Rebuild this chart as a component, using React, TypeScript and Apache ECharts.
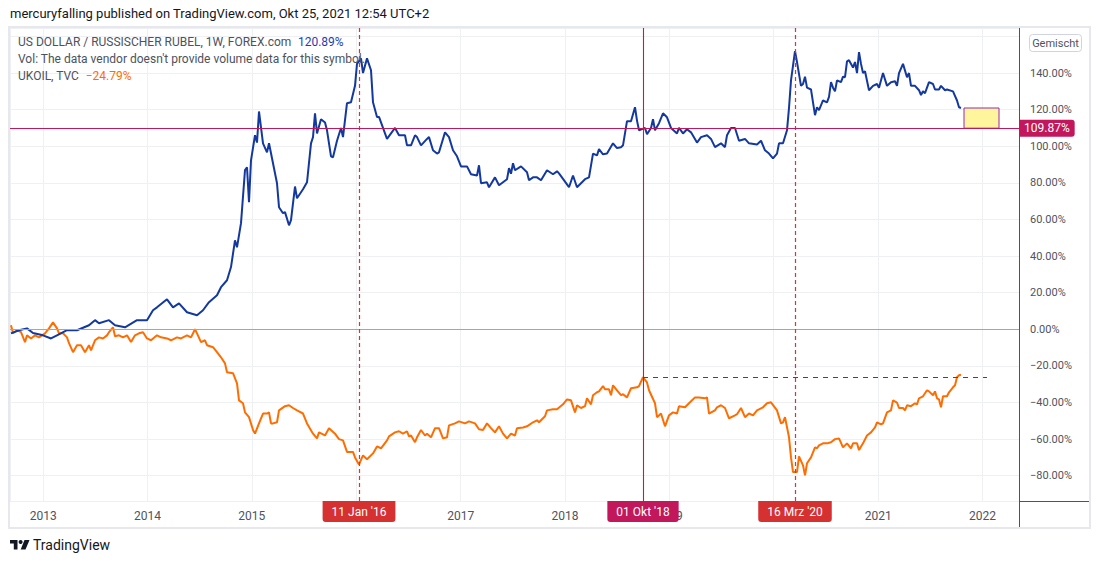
import React, { useEffect, useRef } from "react";
import * as echarts from "echarts";

// Weekly bars, counted from the first bar of the chart
const START_DATE = "2012-09-10";

// [week index, % change since start] — US DOLLAR / RUSSISCHER RUBEL, 1W
const usdRub: [number, number][] = [
  [0,-2.2],[4,-0.5],[8,0.5],[11,-2],[16,-3.3],[20,-5],[23,-3.3],[28,-0.5],[33,-0.5],[39,2.2],[42,5],[44,3.3],[49,5],[52,2.2],[57,1.1],[63,5],[68,5],[71,10.4],[73,12],[78,16.4],[81,12],[84,14.2],[88,9.3],[93,7.7],[96,10.4],[99,14.8],[103,18.6],[105,23],[108,26.8],[110,34],[112,48.6],[113,44.8],[115,58],[117,87],[118,88.5],[119,69.4],[120,92.3],[122,106],[123,102],[124,119],[126,101.6],[128,96.7],[129,101.6],[131,90.7],[133,79.8],[134,66.7],[136,63.4],[137,64],[139,56.8],[140,59.6],[142,78],[143,71.6],[146,76.5],[148,80.3],[150,101.6],[151,105],[152,118],[153,107],[155,114.8],[157,113],[158,108.7],[160,94.5],[161,94],[163,103],[165,110],[166,105],[168,123.5],[170,124],[172,133],[173,145],[175,148],[176,140],[178,148],[180,141.5],[181,124],[183,116],[184,116],[188,104],[192,110],[194,106],[197,106],[198,100.5],[200,100.5],[202,106],[203,105],[205,100.5],[208,104],[209,105],[211,97.8],[213,96],[214,96.7],[217,107.6],[219,105],[221,97.8],[223,94.5],[225,89],[228,89],[230,84.7],[233,84],[234,89.6],[235,79.8],[238,80.3],[239,77.6],[242,83],[244,78.7],[248,82],[249,88],[250,85],[251,90.7],[252,86.9],[255,89],[258,85.8],[259,81.4],[261,83],[263,83],[265,81.4],[268,86.9],[271,84.7],[273,86.3],[274,85.2],[278,79.2],[279,77.6],[281,84],[283,77.6],[285,79.8],[287,82],[289,83],[291,96],[293,95],[294,98.4],[296,95.6],[298,96],[301,101.6],[303,99],[305,99.5],[306,100.5],[308,113.7],[310,113.7],[312,121.3],[313,114],[314,108.7],[317,110],[318,106.6],[320,110],[321,114.8],[322,108.7],[324,112.6],[326,118],[328,115.8],[330,110],[333,107],[334,110],[336,107],[338,109.3],[340,107.6],[343,102],[345,105],[348,106],[350,104],[352,99.5],[355,101.6],[357,99.5],[358,106],[360,110],[362,110],[364,103],[367,104],[369,101.6],[373,101],[375,103],[377,97.8],[379,96],[381,93.4],[383,96],[384,101.6],[386,101.6],[388,108.7],[389,121],[390,136],[392,152],[393,146],[395,133],[396,134],[397,138],[398,132],[400,131],[401,124],[402,117],[403,121.3],[404,119.7],[406,125],[408,124],[409,127],[410,135],[411,132],[412,130],[413,136],[415,135],[416,138],[417,137.7],[418,146.4],[419,147],[421,143],[422,146],[423,140],[424,151.4],[425,145],[426,140],[427,141],[429,130.6],[431,133],[433,134],[434,132],[436,140],[438,133],[440,135],[442,135.5],[443,133],[444,140],[446,145],[448,137.7],[449,140],[450,133],[452,133],[454,130.6],[455,128],[456,130],[457,129],[459,135],[461,134],[462,131],[464,131],[465,133],[467,130.6],[468,131],[471,130],[473,125],[474,121.3],[475,120.89]
];

// [week index, % change since start] — UKOIL, TVC
const ukoil: [number, number][] = [
  [0,2.2],[1,-2.2],[3,-0.5],[5,-1.6],[7,-7],[8,-3.3],[10,-5],[12,-3.3],[14,-4.4],[17,-2.2],[19,0.5],[21,3.8],[23,0.5],[24,-2.2],[26,-2.2],[28,-4.4],[29,-7.6],[31,-12.5],[33,-8.7],[35,-8.7],[37,-12.5],[39,-8.7],[40,-11.5],[42,-6],[44,-4.4],[46,-5],[48,-3.3],[49,-1.6],[51,1.1],[52,-3.8],[54,-3.3],[56,-4.4],[58,-3.3],[60,-7],[62,-3.3],[64,-2.2],[66,-1.6],[68,-5],[70,-6],[73,-3.3],[75,-4.4],[78,-5],[80,-6],[83,-4.4],[85,-5],[88,-3.3],[90,-4.4],[92,0],[93,-2.2],[95,-7],[97,-6],[98,-8.7],[101,-9.8],[103,-12.5],[105,-15.3],[107,-18.6],[108,-23.5],[111,-24],[113,-29.5],[114,-38.8],[116,-40.4],[117,-45.4],[119,-48],[121,-55],[122,-57],[124,-51.4],[126,-46],[128,-46],[129,-45.4],[130,-51.4],[131,-51.4],[133,-50.8],[134,-44.3],[137,-42],[139,-41.5],[141,-43],[143,-44.3],[146,-46],[148,-51.4],[151,-57],[153,-59.6],[154,-56.3],[157,-58],[159,-54],[162,-57],[164,-60],[166,-60.7],[168,-67],[171,-67],[172,-70],[174,-73.8],[176,-68.9],[178,-71],[181,-67.8],[183,-64],[185,-65],[188,-60.7],[189,-58.5],[192,-56.3],[194,-55.7],[196,-57],[198,-55.7],[199,-58.5],[200,-58],[202,-61.7],[203,-59],[205,-55],[207,-58],[208,-57],[210,-59],[212,-54],[214,-54],[216,-59.6],[218,-59],[219,-52.5],[222,-51.4],[224,-50.3],[227,-51.4],[229,-50.3],[232,-51.4],[234,-54.6],[236,-55],[238,-51.4],[240,-54],[242,-56.3],[244,-53],[246,-57],[248,-59.6],[250,-57],[252,-58],[253,-54],[256,-53.6],[258,-53],[261,-50.8],[263,-49.7],[264,-50.8],[267,-47.5],[268,-44.3],[271,-43.7],[273,-43.7],[276,-41],[278,-38.3],[280,-38.8],[282,-45.4],[283,-41.5],[285,-43],[287,-42],[288,-37.7],[290,-41],[291,-36],[293,-34.4],[294,-33.9],[296,-31],[297,-32.8],[299,-32.8],[300,-36],[301,-30.6],[303,-33.3],[305,-36],[306,-35.5],[308,-37.2],[310,-32.2],[313,-31.7],[314,-31],[316,-26.2],[318,-29],[319,-33.3],[322,-40.4],[323,-48],[325,-46],[327,-53],[329,-47],[331,-45.4],[333,-46],[334,-42],[337,-42.6],[339,-40.4],[342,-37.2],[344,-37.2],[347,-37.7],[348,-37.2],[349,-46],[352,-44.3],[353,-42.6],[355,-41.5],[357,-43],[359,-48.6],[362,-47],[363,-46.4],[365,-43],[367,-48],[369,-46],[371,-47],[373,-44.3],[376,-42.6],[378,-40.4],[380,-39.9],[383,-44.3],[385,-51.4],[386,-50.8],[387,-48],[389,-59],[390,-70],[391,-78],[393,-78],[394,-69.4],[396,-74.3],[397,-79.8],[398,-73.2],[400,-70],[402,-64.5],[403,-65],[404,-63.4],[406,-62.3],[408,-62.3],[410,-61.7],[412,-60],[414,-59.6],[416,-64.5],[418,-62.3],[420,-65],[421,-62.3],[423,-62.3],[424,-66],[426,-62.3],[428,-58],[430,-56.3],[432,-53.6],[433,-50.8],[435,-52],[436,-51.4],[438,-45.4],[440,-44.3],[441,-38.8],[443,-40],[444,-43],[446,-43],[447,-44.3],[448,-41.5],[450,-42],[452,-40.4],[453,-41],[454,-37.7],[456,-36.6],[458,-33.3],[459,-33.9],[461,-36],[462,-33.9],[463,-37.7],[464,-38.3],[465,-42.6],[466,-36.6],[468,-36.6],[469,-34.4],[471,-31.7],[472,-30.6],[473,-26.2],[474,-25.1],[475,-24.79]
];

// Annotations
const dashedMarkerDates = ["2016-01-11", "2020-03-16"];
const dashedMarkerLabels = ["11 Jan '16", "16 Mrz '20"];
const crosshairDate = "2018-10-01";
const crosshairLabel = "01 Okt '18";
const hiddenYearLabels = [2016, 2020]; // covered by the date markers
const hiddenPriceLabels = [160]; // covered by the scale button
const hLineValue = 109.87;
const lastUsdRub = 120.89;
const lastUkoil = -24.79;
const oilRefWeeks = [316, 488];
const oilRefValue = -26.2;
const boxWeeks = [476.5, 494];

// Visible range
const viewWeeks = [-0.5, 504];
const yRange = [-93.8, 164.6];

const DAY = 86400000;
const weekToTime = (w: number) => Date.parse(START_DATE) + w * 7 * DAY;
const fmtPct = (v: number) => (v < 0 ? "\u2212" : "") + Math.abs(v).toFixed(2) + "%";

const FONT = "Roboto, 'Liberation Sans', sans-serif";
const BLUE = "#14399e";
const ORANGE = "#ff6d00";
const CRIMSON = "#c2185b";
const RED = "#e0303a";
const LABEL_RED = "#d63131";

export default function App() {
  const ref = useRef<HTMLDivElement>(null);

  useEffect(() => {
    if (!ref.current) return;
    const chart = echarts.init(ref.current, undefined, { renderer: "svg" });

    const dateLabel = (bg: string) => ({
      show: true,
      position: "start" as const,
      color: "#ffffff",
      backgroundColor: bg,
      fontFamily: FONT,
      fontSize: 12,
      padding: [5, 9, 4, 9],
      borderRadius: [0, 0, 3, 3],
      distance: 0,
    });

    const option: any = {
      animation: false,
      textStyle: { fontFamily: FONT },
      grid: { left: 10, right: 81, top: 28, bottom: 63, containLabel: false },
      xAxis: {
        type: "time",
        min: weekToTime(viewWeeks[0]),
        max: weekToTime(viewWeeks[1]),
        minInterval: 365 * DAY,
        maxInterval: 366 * DAY,
        axisLine: { show: true, lineStyle: { color: "#50535e", width: 1 } },
        axisTick: { show: false },
        axisLabel: {
          color: "#50535e",
          fontSize: 12,
          fontFamily: FONT,
          margin: 9,
          formatter: (v: number) => {
            const d = new Date(v);
            const y = d.getUTCFullYear();
            if (d.getUTCMonth() !== 0 || d.getUTCDate() !== 1) return "";
            return hiddenYearLabels.includes(y) ? "" : String(y);
          },
        },
        splitLine: { show: true, lineStyle: { color: "#eef0f4", width: 1 } },
      },
      yAxis: {
        type: "value",
        position: "right",
        min: yRange[0],
        max: yRange[1],
        splitNumber: 13,
        axisLine: { show: true, lineStyle: { color: "#50535e", width: 1 } },
        axisTick: { show: false },
        axisLabel: {
          color: "#50535e",
          fontSize: 11,
          fontFamily: FONT,
          margin: 11,
          showMinLabel: false,
          showMaxLabel: false,
          formatter: (v: number) => (hiddenPriceLabels.includes(Math.round(v)) ? "" : fmtPct(v)),
        },
        splitLine: { show: true, lineStyle: { color: "#eef0f4", width: 1 } },
      },
      series: [
        // zero baseline
        {
          name: "baseline",
          type: "line",
          data: [],
          silent: true,
          z: 2,
          markLine: {
            silent: true,
            symbol: "none",
            lineStyle: { color: "#a3a6af", type: "solid", width: 1 },
            label: { show: false },
            data: [{ yAxis: 0 }],
          },
        },
        // red dashed date markers
        {
          name: "dateMarkers",
          type: "line",
          data: [],
          silent: true,
          color: RED,
          z: 5,
          markLine: {
            silent: true,
            symbol: "none",
            lineStyle: { color: RED, type: [4, 3], width: 1.2 },
            label: { ...dateLabel(LABEL_RED), formatter: (p: any) => p.name },
            data: dashedMarkerDates.map((d, i) => ({
              name: dashedMarkerLabels[i],
              xAxis: Date.parse(d),
            })),
          },
        },
        // crosshair
        {
          name: "crosshair",
          type: "line",
          data: [],
          silent: true,
          color: CRIMSON,
          z: 5,
          markLine: {
            silent: true,
            symbol: "none",
            lineStyle: { color: CRIMSON, type: "solid", width: 1.1 },
            label: { ...dateLabel(CRIMSON), formatter: crosshairLabel },
            data: [{ xAxis: Date.parse(crosshairDate) }],
          },
        },
        // horizontal line at 109.87 %
        {
          name: "hline",
          type: "line",
          data: [],
          silent: true,
          z: 2,
          markLine: {
            silent: true,
            symbol: "none",
            lineStyle: { color: CRIMSON, type: "solid", width: 1 },
            label: {
              show: true,
              position: "end",
              distance: 0,
              formatter: fmtPct(hLineValue),
              color: "#ffffff",
              backgroundColor: CRIMSON,
              fontFamily: FONT,
              fontSize: 12,
              padding: [3, 5, 2, 5],
              borderRadius: [0, 3, 3, 0],
            },
            data: [{ yAxis: hLineValue }],
          },
        },
        // dashed reference line from the 2018 oil high
        {
          name: "oilRef",
          type: "line",
          data: [],
          silent: true,
          color: "#2a44b8",
          z: 2,
          markLine: {
            silent: true,
            symbol: "none",
            lineStyle: { color: "#2a44b8", type: [5, 5], width: 1.1 },
            label: { show: false },
            data: [
              [
                { coord: [weekToTime(oilRefWeeks[0]), oilRefValue] },
                { coord: [weekToTime(oilRefWeeks[1]), oilRefValue] },
              ],
            ],
          },
        },
        {
          name: "UKOIL",
          type: "line",
          data: ukoil.map(([w, v]) => [weekToTime(w), v]),
          showSymbol: false,
          symbol: "none",
          lineStyle: { color: ORANGE, width: 2 },
          itemStyle: { color: ORANGE },
          z: 3,
        },
        {
          name: "USDRUB",
          type: "line",
          data: usdRub.map(([w, v]) => [weekToTime(w), v]),
          showSymbol: false,
          symbol: "none",
          lineStyle: { color: BLUE, width: 2 },
          itemStyle: { color: BLUE },
          z: 4,
          markArea: {
            silent: true,
            itemStyle: { color: "#fff59d", borderColor: "#9c27b0", borderWidth: 1 },
            data: [
              [
                { coord: [weekToTime(boxWeeks[0]), lastUsdRub] },
                { coord: [weekToTime(boxWeeks[1]), hLineValue] },
              ],
            ],
          },
        },
      ],
      graphic: [
        // outer frame of the chart widget
        {
          type: "rect",
          shape: { x: 9, y: 27, width: 1081, height: 501 },
          style: { fill: "none", stroke: "#e6e8ee", lineWidth: 2 },
          silent: true,
          z: 1,
        },
        // price-axis / time-axis corner lines
        {
          type: "line",
          shape: { x1: 1019, y1: 501.5, x2: 1090, y2: 501.5 },
          style: { stroke: "#50535e", lineWidth: 1 },
          silent: true,
        },
        {
          type: "line",
          shape: { x1: 1019.5, y1: 501, x2: 1019.5, y2: 528 },
          style: { stroke: "#50535e", lineWidth: 1 },
          silent: true,
        },
        // header
        {
          type: "text",
          left: 10,
          top: 7,
          style: {
            text: "mercuryfalling published on TradingView.com, Okt 25, 2021 12:54 UTC+2",
            fill: "#131722",
            fontFamily: FONT,
            fontSize: 13,
          },
        },
        // legend
        {
          type: "text",
          left: 18,
          top: 36,
          z: 10,
          style: {
            text: "{a|US DOLLAR / RUSSISCHER RUBEL, 1W, FOREX.com}  {b|" + fmtPct(lastUsdRub) + "}",
            rich: {
              a: { fill: "#4c525e", fontFamily: FONT, fontSize: 12 },
              b: { fill: "#1c3fb0", fontFamily: FONT, fontSize: 12 },
            },
          },
        },
        {
          type: "text",
          left: 18,
          top: 53,
          z: 10,
          style: {
            text: "Vol: The data vendor doesn't provide volume data for this symbol.",
            fill: "#4c525e",
            fontFamily: FONT,
            fontSize: 12,
          },
        },
        {
          type: "text",
          left: 18,
          top: 70,
          z: 10,
          style: {
            text: "{a|UKOIL, TVC}  {b|" + fmtPct(lastUkoil) + "}",
            rich: {
              a: { fill: "#4c525e", fontFamily: FONT, fontSize: 12 },
              b: { fill: ORANGE, fontFamily: FONT, fontSize: 12 },
            },
          },
        },
        // "Gemischt" scale button
        {
          type: "group",
          left: 1029,
          top: 34,
          z: 100,
          children: [
            {
              type: "rect",
              z: 100,
              shape: { x: 0, y: 0, width: 52, height: 17, r: 3 },
              style: { fill: "#ffffff", stroke: "#d1d4dc", lineWidth: 1 },
            },
            {
              type: "text",
              z: 101,
              x: 26,
              y: 8.5,
              style: {
                text: "Gemischt",
                fill: "#50535e",
                fontFamily: FONT,
                fontSize: 11,
                align: "center",
                verticalAlign: "middle",
              },
            },
          ],
        },
        // TradingView logo
        {
          type: "group",
          left: 10,
          top: 540,
          children: [
            {
              type: "polygon",
              shape: { points: [[0, 0], [7.5, 0], [7.5, 9.5], [3.8, 9.5], [3.8, 3.6], [0, 3.6]] },
              style: { fill: "#131722" },
            },
            { type: "circle", shape: { cx: 10.6, cy: 2, r: 2 }, style: { fill: "#131722" } },
            {
              type: "polygon",
              shape: { points: [[14.5, 0], [19.5, 0], [15.5, 9.5], [10.7, 9.5]] },
              style: { fill: "#131722" },
            },
          ],
        },
        {
          type: "text",
          left: 33,
          top: 538,
          style: { text: "TradingView", fill: "#131722", fontFamily: FONT, fontSize: 14 },
        },
      ],
    };

    chart.setOption(option);
    return () => chart.dispose();
  }, []);

  return (
    <div
      ref={ref}
      style={{ position: "fixed", left: 0, top: 0, width: 1100, height: 564, background: "#ffffff" }}
    />
  );
}
